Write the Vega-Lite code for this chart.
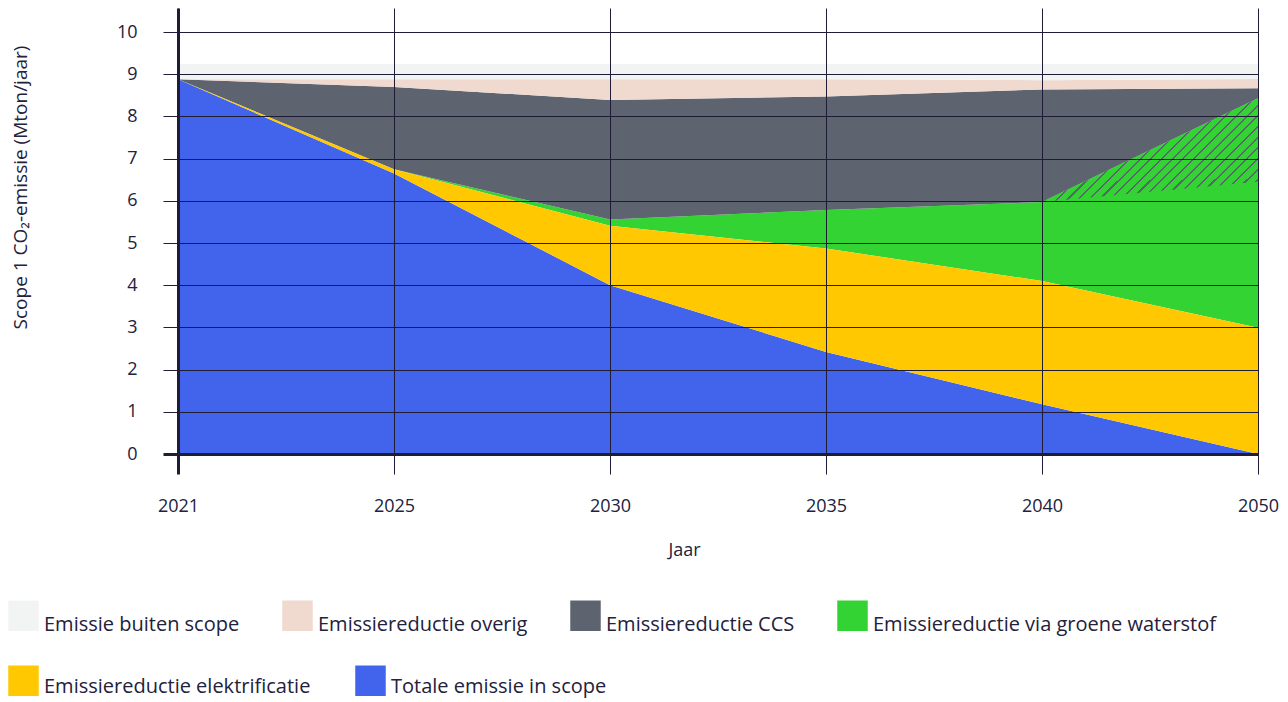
{
  "$schema": "https://vega.github.io/schema/vega-lite/v6.json",
  "width": 1080,
  "height": 446,
  "autosize": {"type": "none"},
  "padding": {"left": 178, "top": 8, "right": 30, "bottom": 248},
  "background": "white",
  "config": {
    "font": "Open Sans",
    "view": {"stroke": null},
    "legend": {
      "title": null,
      "orient": "none",
      "direction": "horizontal",
      "columnPadding": 44,
      "symbolType": "square",
      "symbolSize": 930,
      "symbolStrokeWidth": 0,
      "symbolOpacity": 1,
      "labelFontSize": 20,
      "labelColor": "#23213b",
      "labelOffset": 5,
      "labelLimit": 600,
      "labelBaseline": "alphabetic",
      "padding": 0
    }
  },
  "data": {
    "values": [
      {"jaar": "2021", "reeks": "Totale emissie in scope", "onder": 0, "boven": 8.88},
      {"jaar": "2025", "reeks": "Totale emissie in scope", "onder": 0, "boven": 6.65},
      {"jaar": "2030", "reeks": "Totale emissie in scope", "onder": 0, "boven": 4.0},
      {"jaar": "2035", "reeks": "Totale emissie in scope", "onder": 0, "boven": 2.42},
      {"jaar": "2040", "reeks": "Totale emissie in scope", "onder": 0, "boven": 1.18},
      {"jaar": "2050", "reeks": "Totale emissie in scope", "onder": 0, "boven": 0},
      {"jaar": "2021", "reeks": "Emissiereductie elektrificatie", "onder": 8.88, "boven": 8.88},
      {"jaar": "2025", "reeks": "Emissiereductie elektrificatie", "onder": 6.65, "boven": 6.75},
      {"jaar": "2030", "reeks": "Emissiereductie elektrificatie", "onder": 4.0, "boven": 5.41},
      {"jaar": "2035", "reeks": "Emissiereductie elektrificatie", "onder": 2.42, "boven": 4.87},
      {"jaar": "2040", "reeks": "Emissiereductie elektrificatie", "onder": 1.18, "boven": 4.1},
      {"jaar": "2050", "reeks": "Emissiereductie elektrificatie", "onder": 0, "boven": 2.99},
      {"jaar": "2021", "reeks": "Emissiereductie via groene waterstof", "onder": 8.88, "boven": 8.88},
      {"jaar": "2025", "reeks": "Emissiereductie via groene waterstof", "onder": 6.75, "boven": 6.75},
      {"jaar": "2030", "reeks": "Emissiereductie via groene waterstof", "onder": 5.41, "boven": 5.56},
      {"jaar": "2035", "reeks": "Emissiereductie via groene waterstof", "onder": 4.87, "boven": 5.78},
      {"jaar": "2040", "reeks": "Emissiereductie via groene waterstof", "onder": 4.1, "boven": 5.97},
      {"jaar": "2050", "reeks": "Emissiereductie via groene waterstof", "onder": 2.99, "boven": 8.43},
      {"jaar": "2021", "reeks": "Emissiereductie CCS", "onder": 8.88, "boven": 8.88},
      {"jaar": "2025", "reeks": "Emissiereductie CCS", "onder": 6.75, "boven": 8.7},
      {"jaar": "2030", "reeks": "Emissiereductie CCS", "onder": 5.56, "boven": 8.39},
      {"jaar": "2035", "reeks": "Emissiereductie CCS", "onder": 5.78, "boven": 8.47},
      {"jaar": "2040", "reeks": "Emissiereductie CCS", "onder": 5.97, "boven": 8.64},
      {"jaar": "2050", "reeks": "Emissiereductie CCS", "onder": 8.43, "boven": 8.67},
      {"jaar": "2021", "reeks": "Emissiereductie overig", "onder": 8.88, "boven": 8.88},
      {"jaar": "2025", "reeks": "Emissiereductie overig", "onder": 8.7, "boven": 8.88},
      {"jaar": "2030", "reeks": "Emissiereductie overig", "onder": 8.39, "boven": 8.88},
      {"jaar": "2035", "reeks": "Emissiereductie overig", "onder": 8.47, "boven": 8.88},
      {"jaar": "2040", "reeks": "Emissiereductie overig", "onder": 8.64, "boven": 8.86},
      {"jaar": "2050", "reeks": "Emissiereductie overig", "onder": 8.67, "boven": 8.89},
      {"jaar": "2021", "reeks": "Emissie buiten scope", "onder": 8.88, "boven": 9.24},
      {"jaar": "2025", "reeks": "Emissie buiten scope", "onder": 8.88, "boven": 9.24},
      {"jaar": "2030", "reeks": "Emissie buiten scope", "onder": 8.88, "boven": 9.24},
      {"jaar": "2035", "reeks": "Emissie buiten scope", "onder": 8.88, "boven": 9.24},
      {"jaar": "2040", "reeks": "Emissie buiten scope", "onder": 8.86, "boven": 9.24},
      {"jaar": "2050", "reeks": "Emissie buiten scope", "onder": 8.89, "boven": 9.24}
    ]
  },
  "layer": [
    {
      "transform": [{"filter": {"field": "reeks", "oneOf": ["Emissie buiten scope", "Emissiereductie overig", "Emissiereductie CCS", "Emissiereductie via groene waterstof"]}}],
      "mark": {"type": "area", "interpolate": "linear", "opacity": 1},
      "encoding": {
        "x": {
          "field": "jaar",
          "type": "ordinal",
          "scale": {"type": "point", "padding": 0, "domain": ["2021", "2025", "2030", "2035", "2040", "2050"]},
          "axis": {
            "title": "Jaar",
            "titleX": 506,
            "titleY": 101,
            "titleBaseline": "alphabetic",
            "titleAlign": "center",
            "titleFontSize": 18,
            "titleFontWeight": "normal",
            "titleColor": "#23213b",
            "labelFontSize": 18,
            "labelColor": "#23213b",
            "labelAngle": 0,
            "labelBaseline": "alphabetic",
            "labelPadding": 37,
            "tickSize": 20,
            "tickColor": "#1f1c35",
            "tickWidth": {"condition": {"test": "datum.value === '2021'", "value": 3}, "value": 1},
            "domainColor": "#1f1c35",
            "domainWidth": 3,
            "grid": true,
            "gridColor": "#1f1c35",
            "gridWidth": 1,
            "gridOpacity": 1,
            "zindex": 1
          }
        },
        "y": {
          "field": "boven",
          "type": "quantitative",
          "scale": {"domain": [0, 10.57], "nice": false, "zero": true},
          "axis": {
            "title": "Scope 1 CO₂-emissie (Mton/jaar)",
            "titleX": -158,
            "titleY": 179,
            "titleAngle": 270,
            "titleAlign": "center",
            "titleBaseline": "middle",
            "titleFontSize": 19,
            "titleFontWeight": "normal",
            "titleColor": "#23213b",
            "values": [0, 1, 2, 3, 4, 5, 6, 7, 8, 9, 10],
            "format": "d",
            "labelFontSize": 18,
            "labelColor": "#23213b",
            "labelPadding": 26,
            "tickSize": 15,
            "tickColor": "#1f1c35",
            "tickWidth": {"condition": {"test": "datum.value === 0", "value": 3}, "value": 1},
            "domainColor": "#1f1c35",
            "domainWidth": 3,
            "grid": true,
            "gridColor": "#1f1c35",
            "gridWidth": 1,
            "gridOpacity": 1,
            "zindex": 1
          }
        },
        "y2": {"field": "onder"},
        "color": {
          "field": "reeks",
          "type": "nominal",
          "scale": {
            "domain": ["Emissie buiten scope", "Emissiereductie overig", "Emissiereductie CCS", "Emissiereductie via groene waterstof"],
            "range": ["#f2f4f3", "#f0d9cf", "#5d6470", "#33d333"]
          },
          "legend": {
            "legendX": -170,
            "legendY": 592,
            "columns": 4,
            "columnPadding": 42,
            "encode": {"labels": {"update": {"dy": {"value": 15}}}}
          }
        }
      }
    },
    {
      "transform": [{"filter": {"field": "reeks", "oneOf": ["Emissiereductie elektrificatie", "Totale emissie in scope"]}}],
      "mark": {"type": "area", "interpolate": "linear", "opacity": 1},
      "encoding": {
        "x": {"field": "jaar", "type": "ordinal"},
        "y": {"field": "boven", "type": "quantitative"},
        "y2": {"field": "onder"},
        "fill": {
          "field": "reeks",
          "type": "nominal",
          "scale": {
            "domain": ["Emissiereductie elektrificatie", "Totale emissie in scope"],
            "range": ["#ffc800", "#4263eb"]
          },
          "legend": {
            "legendX": -170,
            "legendY": 657,
            "columns": 2,
            "columnPadding": 44,
            "encode": {"labels": {"update": {"dy": {"value": 12}}}}
          }
        }
      }
    },
    {
      "data": {
        "values": [
          {"jaar": "2040", "onder": 5.97, "boven": 5.97},
          {"jaar": "2050", "onder": 6.45, "boven": 8.43}
        ]
      },
      "mark": {
        "type": "area",
        "interpolate": "linear",
        "opacity": 1,
        "fill": {
          "gradient": "linear",
          "x1": 0, "y1": 0, "x2": 1.2027, "y2": 0.579,
          "stops": [
            {"offset": 0, "color": "#33d333"}, {"offset": 0.0267, "color": "#33d333"}, {"offset": 0.0267, "color": "#5d6470"}, {"offset": 0.0333, "color": "#5d6470"},
            {"offset": 0.0333, "color": "#33d333"}, {"offset": 0.06, "color": "#33d333"}, {"offset": 0.06, "color": "#5d6470"}, {"offset": 0.0667, "color": "#5d6470"},
            {"offset": 0.0667, "color": "#33d333"}, {"offset": 0.0933, "color": "#33d333"}, {"offset": 0.0933, "color": "#5d6470"}, {"offset": 0.1, "color": "#5d6470"},
            {"offset": 0.1, "color": "#33d333"}, {"offset": 0.1267, "color": "#33d333"}, {"offset": 0.1267, "color": "#5d6470"}, {"offset": 0.1333, "color": "#5d6470"},
            {"offset": 0.1333, "color": "#33d333"}, {"offset": 0.16, "color": "#33d333"}, {"offset": 0.16, "color": "#5d6470"}, {"offset": 0.1667, "color": "#5d6470"},
            {"offset": 0.1667, "color": "#33d333"}, {"offset": 0.1933, "color": "#33d333"}, {"offset": 0.1933, "color": "#5d6470"}, {"offset": 0.2, "color": "#5d6470"},
            {"offset": 0.2, "color": "#33d333"}, {"offset": 0.2267, "color": "#33d333"}, {"offset": 0.2267, "color": "#5d6470"}, {"offset": 0.2333, "color": "#5d6470"},
            {"offset": 0.2333, "color": "#33d333"}, {"offset": 0.26, "color": "#33d333"}, {"offset": 0.26, "color": "#5d6470"}, {"offset": 0.2667, "color": "#5d6470"},
            {"offset": 0.2667, "color": "#33d333"}, {"offset": 0.2933, "color": "#33d333"}, {"offset": 0.2933, "color": "#5d6470"}, {"offset": 0.3, "color": "#5d6470"},
            {"offset": 0.3, "color": "#33d333"}, {"offset": 0.3267, "color": "#33d333"}, {"offset": 0.3267, "color": "#5d6470"}, {"offset": 0.3333, "color": "#5d6470"},
            {"offset": 0.3333, "color": "#33d333"}, {"offset": 0.36, "color": "#33d333"}, {"offset": 0.36, "color": "#5d6470"}, {"offset": 0.3667, "color": "#5d6470"},
            {"offset": 0.3667, "color": "#33d333"}, {"offset": 0.3933, "color": "#33d333"}, {"offset": 0.3933, "color": "#5d6470"}, {"offset": 0.4, "color": "#5d6470"},
            {"offset": 0.4, "color": "#33d333"}, {"offset": 0.4267, "color": "#33d333"}, {"offset": 0.4267, "color": "#5d6470"}, {"offset": 0.4333, "color": "#5d6470"},
            {"offset": 0.4333, "color": "#33d333"}, {"offset": 0.46, "color": "#33d333"}, {"offset": 0.46, "color": "#5d6470"}, {"offset": 0.4667, "color": "#5d6470"},
            {"offset": 0.4667, "color": "#33d333"}, {"offset": 0.4933, "color": "#33d333"}, {"offset": 0.4933, "color": "#5d6470"}, {"offset": 0.5, "color": "#5d6470"},
            {"offset": 0.5, "color": "#33d333"}, {"offset": 0.5267, "color": "#33d333"}, {"offset": 0.5267, "color": "#5d6470"}, {"offset": 0.5333, "color": "#5d6470"},
            {"offset": 0.5333, "color": "#33d333"}, {"offset": 0.56, "color": "#33d333"}, {"offset": 0.56, "color": "#5d6470"}, {"offset": 0.5667, "color": "#5d6470"},
            {"offset": 0.5667, "color": "#33d333"}, {"offset": 0.5933, "color": "#33d333"}, {"offset": 0.5933, "color": "#5d6470"}, {"offset": 0.6, "color": "#5d6470"},
            {"offset": 0.6, "color": "#33d333"}, {"offset": 0.6267, "color": "#33d333"}, {"offset": 0.6267, "color": "#5d6470"}, {"offset": 0.6333, "color": "#5d6470"},
            {"offset": 0.6333, "color": "#33d333"}, {"offset": 0.66, "color": "#33d333"}, {"offset": 0.66, "color": "#5d6470"}, {"offset": 0.6667, "color": "#5d6470"},
            {"offset": 0.6667, "color": "#33d333"}, {"offset": 0.6933, "color": "#33d333"}, {"offset": 0.6933, "color": "#5d6470"}, {"offset": 0.7, "color": "#5d6470"},
            {"offset": 0.7, "color": "#33d333"}, {"offset": 0.7267, "color": "#33d333"}, {"offset": 0.7267, "color": "#5d6470"}, {"offset": 0.7333, "color": "#5d6470"},
            {"offset": 0.7333, "color": "#33d333"}, {"offset": 0.76, "color": "#33d333"}, {"offset": 0.76, "color": "#5d6470"}, {"offset": 0.7667, "color": "#5d6470"},
            {"offset": 0.7667, "color": "#33d333"}, {"offset": 0.7933, "color": "#33d333"}, {"offset": 0.7933, "color": "#5d6470"}, {"offset": 0.8, "color": "#5d6470"},
            {"offset": 0.8, "color": "#33d333"}, {"offset": 0.8267, "color": "#33d333"}, {"offset": 0.8267, "color": "#5d6470"}, {"offset": 0.8333, "color": "#5d6470"},
            {"offset": 0.8333, "color": "#33d333"}, {"offset": 0.86, "color": "#33d333"}, {"offset": 0.86, "color": "#5d6470"}, {"offset": 0.8667, "color": "#5d6470"},
            {"offset": 0.8667, "color": "#33d333"}, {"offset": 0.8933, "color": "#33d333"}, {"offset": 0.8933, "color": "#5d6470"}, {"offset": 0.9, "color": "#5d6470"},
            {"offset": 0.9, "color": "#33d333"}, {"offset": 0.9267, "color": "#33d333"}, {"offset": 0.9267, "color": "#5d6470"}, {"offset": 0.9333, "color": "#5d6470"},
            {"offset": 0.9333, "color": "#33d333"}, {"offset": 0.96, "color": "#33d333"}, {"offset": 0.96, "color": "#5d6470"}, {"offset": 0.9667, "color": "#5d6470"},
            {"offset": 0.9667, "color": "#33d333"}, {"offset": 0.9933, "color": "#33d333"}, {"offset": 0.9933, "color": "#5d6470"}, {"offset": 1, "color": "#5d6470"}
          ]
        }
      },
      "encoding": {
        "x": {"field": "jaar", "type": "ordinal"},
        "y": {"field": "boven", "type": "quantitative"},
        "y2": {"field": "onder"}
      }
    }
  ]
}
